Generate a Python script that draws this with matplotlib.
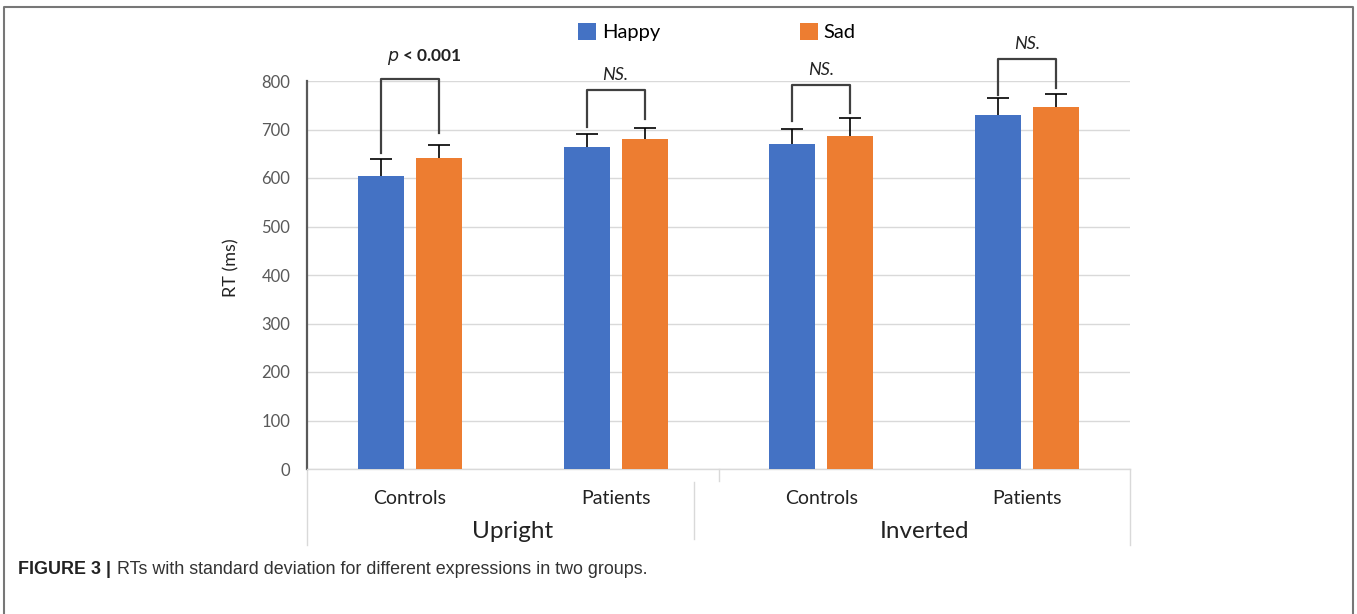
import numpy as np
import matplotlib
matplotlib.use("Agg")
import matplotlib.pyplot as plt
from matplotlib.lines import Line2D

plt.rcParams['font.family'] = ['Lato', 'DejaVu Sans']

# data
groups = ["Controls", "Patients", "Controls", "Patients"]
orientations = ["Upright", "Inverted"]
happy = [604, 664, 670, 730]
sad = [641, 680, 687, 746]
happy_sd = [35, 27, 31, 35]
sad_sd = [27, 23, 37, 27]

# significance brackets: top, left leg end, right leg end, label
brk_top = [804, 781, 792, 845]
brk_left = [651, 705, 718, 771]
brk_right = [693, 722, 734, 786]
brk_text = ["$p$ < 0.001", "NS.", "NS.", "NS."]
brk_text_y = [849, 812, 823, 876]

blue = "#4472C4"
orange = "#ED7D31"

fig = plt.figure(figsize=(13.57, 6.14), dpi=100)
ax = fig.add_axes([307/1357, 1-469/614, 823/1357, 388/614])

x = np.arange(len(groups))
w = 0.224
off = 0.141
cap = 0.054
ax.bar(x - off, happy, w, color=blue, label="Happy", zorder=3)
ax.bar(x + off, sad, w, color=orange, label="Sad", zorder=3)

# upper error bars only (no cap at the bar top)
for xs, vals, sds in [(x - off, happy, happy_sd), (x + off, sad, sad_sd)]:
    tops = np.array(vals) + np.array(sds)
    ax.vlines(xs, vals, tops, color="black", lw=1.2, zorder=4)
    ax.hlines(tops, xs - cap, xs + cap, color="black", lw=1.2, zorder=4)

# brackets
for i in range(4):
    xl = x[i] - off
    xr = x[i] + off
    ax.plot([xl, xl, xr, xr], [brk_left[i], brk_top[i], brk_top[i], brk_right[i]],
            color="#404040", lw=1.6, clip_on=False, zorder=5)
    if i == 0:
        ax.text(x[i] + 0.07, brk_text_y[i], brk_text[i], ha="center", va="center",
                fontsize=12.5, fontweight="bold", color="#222222")
    else:
        ax.text(x[i], brk_text_y[i], brk_text[i], ha="center", va="center",
                fontsize=13, style="italic", color="#222222")

ax.set_xlim(-0.5, 3.5)
ax.set_ylim(0, 800)
ax.set_yticks(range(0, 801, 100))
ax.tick_params(axis="y", length=0, pad=12, labelsize=12, labelcolor="#595959")
ax.set_xticks([])
ax.grid(axis="y", color="#D9D9D9", lw=1, zorder=0)
for s in ["top", "right"]:
    ax.spines[s].set_visible(False)
ax.spines["left"].set_color("#595959")
ax.spines["left"].set_linewidth(1.6)
ax.spines["bottom"].set_color("#D9D9D9")
ax.spines["bottom"].set_linewidth(1)
ax.set_ylabel("RT (ms)", fontsize=13, color="#222222")
ax.yaxis.set_label_coords(-0.082, 0.52)

# multi-level category axis
tr = ax.get_xaxis_transform()
sep = "#D9D9D9"
ax.add_line(Line2D([-0.5, -0.5], [0, -0.196], transform=tr, color=sep, lw=1, clip_on=False))
ax.add_line(Line2D([3.5, 3.5], [0, -0.196], transform=tr, color=sep, lw=1, clip_on=False))
ax.add_line(Line2D([1.5, 1.5], [0, -0.031], transform=tr, color=sep, lw=1, clip_on=False))
ax.add_line(Line2D([1.381, 1.381], [-0.034, -0.18], transform=tr, color=sep, lw=1, clip_on=False))
for i, g in enumerate(groups):
    ax.text(x[i], -0.075, g, transform=tr, ha="center", va="center",
            fontsize=14, color="#222222")
for j, o in enumerate(orientations):
    ax.text(0.5 + 2 * j, -0.16, o, transform=tr, ha="center", va="center",
            fontsize=17.5, color="#222222")

# legend
fig.legend(loc="center", bbox_to_anchor=(717/1357, 1-32/614), ncol=2, frameon=False,
           fontsize=14.5, handlelength=0.9, handleheight=0.9, handletextpad=0.3,
           columnspacing=6.9)

# caption and frame
fig.text(18/1357, 1-570/614, "FIGURE 3 |", fontsize=12.9, fontweight="bold",
         family="Liberation Sans", color="#222222", va="center")
fig.text(117/1357, 1-570/614, "RTs with standard deviation for different expressions in two groups.",
         fontsize=12.9, family="Liberation Sans", color="#333333", va="center")
fig.add_artist(Line2D([4/1357, 4/1357, 1353/1357, 1353/1357], [0, 1-7/614, 1-7/614, 0],
                      transform=fig.transFigure, color="#777777", lw=1.5))

fig.savefig("out.png", dpi=100)
